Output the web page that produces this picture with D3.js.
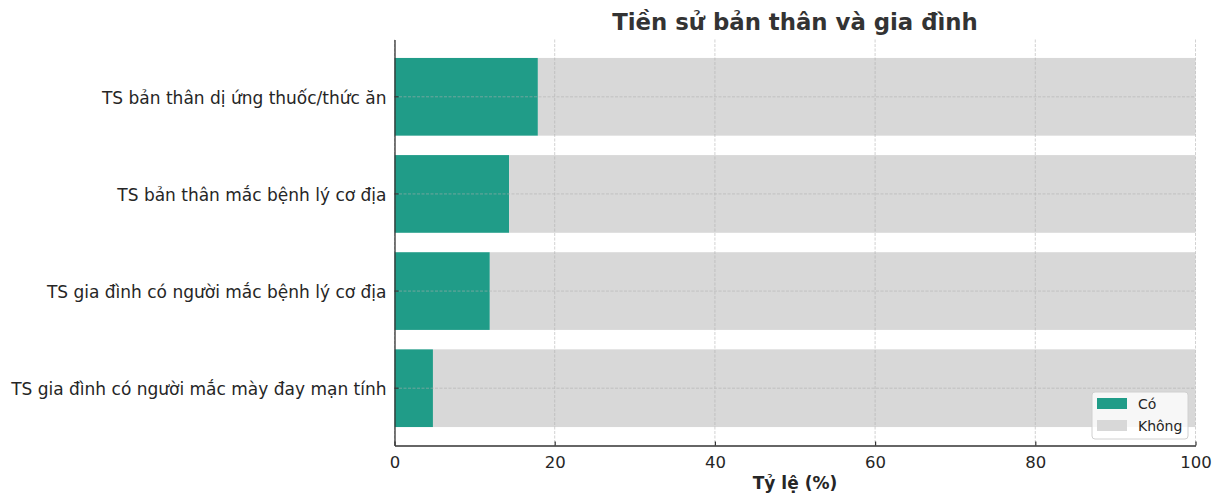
<!DOCTYPE html>
<html>
<head>
<meta charset="utf-8">
<script src="https://cdn.jsdelivr.net/npm/d3@7"></script>
<style>
  html, body { margin: 0; padding: 0; background: #fff; }
  svg { display: block; font-family: "DejaVu Sans", sans-serif; }
</style>
</head>
<body>
<svg id="chart" width="1217" height="493"></svg>
<script>
const categories = [
  "TS bản thân dị ứng thuốc/thức ăn",
  "TS bản thân mắc bệnh lý cơ địa",
  "TS gia đình có người mắc bệnh lý cơ địa",
  "TS gia đình có người mắc mày đay mạn tính"
];
const coValues = [17.9, 14.3, 11.9, 4.8];
const khongValues = [82.1, 85.7, 88.1, 95.2];
const seriesNames = ["Có", "Không"];
const xTicks = [0, 20, 40, 60, 80, 100];
const titleText = "Tiền sử bản thân và gia đình";
const xLabelText = "Tỷ lệ (%)";

const colors = { "Có": "#209c88", "Không": "#d8d8d8" };
const svg = d3.select("#chart");
const L = 394.5, R = 1195.5, T = 39.5, B = 445.5;

const x = d3.scaleLinear().domain([0, 100]).range([L, R]);
const y = d3.scaleBand().domain(categories).range([T, B]).paddingInner(0.2).paddingOuter(0.19);

const rows = categories.map((c, i) => ({ cat: c, "Có": coValues[i], "Không": khongValues[i] }));
const stacked = d3.stack().keys(seriesNames)(rows);

// bars
const g = svg.append("g");
stacked.forEach(s => {
  g.selectAll(null).data(s).join("rect")
    .attr("x", d => x(d[0]))
    .attr("width", d => x(d[1]) - x(d[0]))
    .attr("y", d => y(d.data.cat))
    .attr("height", y.bandwidth())
    .attr("fill", colors[s.key]);
});

// grid (on top)
const grid = svg.append("g").attr("stroke", "#b0b0b0").attr("stroke-width", 0.8)
  .attr("stroke-dasharray", "3,1.5").attr("opacity", 0.7);
grid.selectAll(null).data(xTicks).join("line")
  .attr("x1", d => x(d)).attr("x2", d => x(d)).attr("y1", T).attr("y2", B);
grid.selectAll(null).data(categories).join("line")
  .attr("x1", L).attr("x2", R)
  .attr("y1", d => y(d) + y.bandwidth() / 2).attr("y2", d => y(d) + y.bandwidth() / 2);

// axes
const xAxis = svg.append("g").attr("transform", `translate(0,${B})`)
  .call(d3.axisBottom(x).tickValues(xTicks).tickSizeInner(-4).tickSizeOuter(0).tickPadding(8));
const yAxis = svg.append("g").attr("transform", `translate(${L},0)`)
  .call(d3.axisLeft(y).tickSizeInner(-4).tickSizeOuter(0).tickPadding(8));
[xAxis, yAxis].forEach(a => {
  a.select(".domain").attr("stroke", "#333").attr("stroke-width", 1.3);
  a.selectAll(".tick line").attr("stroke", "#333").attr("stroke-width", 1.2);
  a.selectAll("text").attr("fill", "#262626").attr("font-size", 16.5)
    .attr("font-family", "DejaVu Sans, sans-serif");
});
yAxis.selectAll("text").attr("font-size", 17).attr("dy", "0.4em");
xAxis.selectAll("text").attr("dy", "0.9em");

// title & label
svg.append("text").attr("x", (L + R) / 2).attr("y", 30).attr("text-anchor", "middle")
  .attr("font-size", 22.8).attr("font-weight", "bold").attr("fill", "#333").text(titleText);
svg.append("text").attr("x", (L + R) / 2).attr("y", 489).attr("text-anchor", "middle")
  .attr("font-size", 17).attr("font-weight", "bold").attr("fill", "#262626").text(xLabelText);

// legend
const lg = svg.append("g").attr("transform", "translate(1092,392)");
lg.append("rect").attr("width", 96).attr("height", 47).attr("rx", 3)
  .attr("fill", "#fff").attr("fill-opacity", 0.8).attr("stroke", "#d0d0d0").attr("stroke-width", 1);
seriesNames.forEach((n, i) => {
  lg.append("rect").attr("x", 5).attr("y", 6 + i * 22).attr("width", 30).attr("height", 11)
    .attr("fill", colors[n]);
  lg.append("text").attr("x", 46).attr("y", 17 + i * 22).attr("font-size", 14)
    .attr("fill", "#262626").text(n);
});
</script>
</body>
</html>
